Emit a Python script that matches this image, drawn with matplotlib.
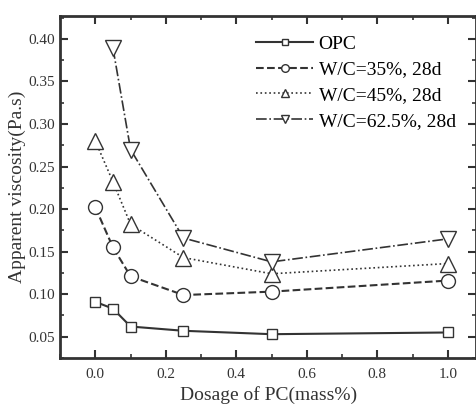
import matplotlib
matplotlib.use("Agg")
import matplotlib.pyplot as plt
from matplotlib.ticker import MultipleLocator

plt.rcParams['font.family'] = ['Liberation Serif', 'DejaVu Serif']

dosage = [0.0, 0.05, 0.1, 0.25, 0.5, 1.0]
opc = [0.091, 0.083, 0.062, 0.057, 0.053, 0.055]
wc35 = [0.202, 0.155, 0.121, 0.099, 0.103, 0.116]
wc45 = [0.280, 0.232, 0.182, 0.143, 0.124, 0.136]
wc625_x = [0.05, 0.1, 0.25, 0.5, 1.0]
wc625 = [0.389, 0.270, 0.166, 0.138, 0.165]

fig = plt.figure(figsize=(4.77, 4.08), dpi=100)
ax = fig.add_axes([0.126, 0.1225, 0.872, 0.8385])

c = '#333333'
ax.plot(dosage, opc, '-', color=c, lw=1.5, marker='s', ms=7, mfc='white', mec=c, mew=1, label='OPC')
ax.plot(dosage, wc35, '--', color=c, lw=1.5, marker='o', ms=10, mfc='white', mec=c, mew=1, label='W/C=35%, 28d')
ax.plot(dosage, wc45, ':', color=c, lw=1.2, marker='^', ms=11, mfc='white', mec=c, mew=1, label='W/C=45%, 28d')
ax.plot(wc625_x, wc625, '-.', color=c, lw=1.2, marker='v', ms=11, mfc='white', mec=c, mew=1, label='W/C=62.5%, 28d')

ax.set_xlim(-0.1, 1.08)
ax.set_ylim(0.025, 0.427)
ax.xaxis.set_major_locator(MultipleLocator(0.2))
ax.xaxis.set_minor_locator(MultipleLocator(0.1))
ax.yaxis.set_major_locator(MultipleLocator(0.05))
ax.yaxis.set_minor_locator(MultipleLocator(0.025))
ax.xaxis.set_major_formatter(plt.FuncFormatter(lambda v, p: f'{v:.1f}'))
ax.yaxis.set_major_formatter(plt.FuncFormatter(lambda v, p: f'{v:.2f}'))
ax.tick_params(which='both', direction='in', top=True, right=True, labelsize=11, colors='#333333')
ax.tick_params(which='major', length=6, width=1.5)
ax.tick_params(axis='x', which='major', pad=7)
ax.tick_params(which='minor', length=3, width=1.2)
for s in ax.spines.values():
    s.set_linewidth(2)
    s.set_color('#333333')

ax.set_xlabel('Dosage of PC(mass%)', fontsize=14, color='#333333', labelpad=4)
ax.set_ylabel('Apparent viscosity(Pa.s)', fontsize=14, color='#333333', labelpad=2)

ax.legend(loc='upper left', bbox_to_anchor=(0.43, 0.995), frameon=False, fontsize=14,
          handlelength=2.9, labelspacing=0.42, handletextpad=0.3, markerscale=0.55)

fig.savefig('out.png', dpi=100)
